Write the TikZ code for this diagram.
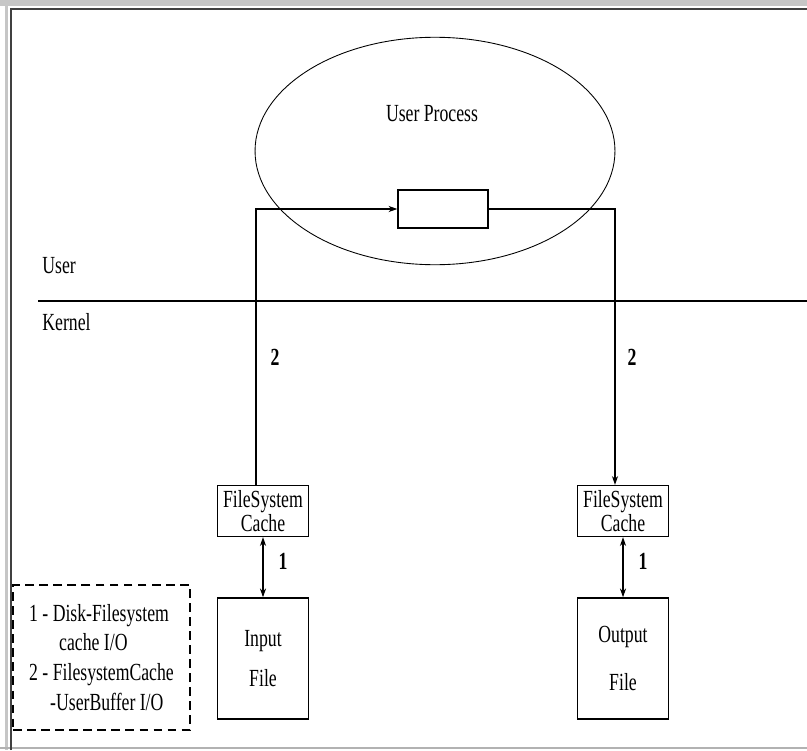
\documentclass[tikz,border=0pt]{standalone}
\usepackage{fontspec}
\setmainfont{Liberation Serif}[FakeStretch=0.72]
\usetikzlibrary{arrows.meta,positioning,calc,shapes.geometric}

\begin{document}
\begin{tikzpicture}[
  x=0.02cm, y=-0.02cm,
  font=\fontsize{14}{16}\selectfont,
  >={Stealth[length=5pt,width=3.5pt]},
  line width=0.6pt,
  box/.style={draw, line width=0.8pt, inner sep=0pt, minimum width=1.82cm, align=center},
  cache/.style={box, minimum height=1.02cm, font=\fontsize{14}{9.5}\selectfont},
  file/.style={box, minimum height=2.42cm},
  num/.style={font=\bfseries\fontsize{14}{16}\selectfont},
  arr/.style={->}
]
\useasboundingbox (0,0) rectangle (807,750);
% window frame
\fill[gray!45] (0,0) rectangle (807,6);
\fill[gray!45] (5,0) rectangle (8,750);
\draw[gray!60] (0,748) -- (807,748);
\draw[black!75, line width=1.2pt] (11,750) |- (807,9);

% user space
\node[ellipse, draw, line width=0.5pt, minimum width=7.2cm, minimum height=4.55cm] (proc) at (435,151) {};
\node (ptitle) at (432,114) {User Process};
\node[box, minimum width=1.8cm, minimum height=0.76cm] (buf) at (443,209) {};

\node[anchor=west] (user) at (36,266) {User};
\node[anchor=west] (kernel) at (36,322) {Kernel};
\coordinate (sepL) at (38,301);
\coordinate (sepR) at (807,301);
\draw[line width=1pt] (sepL) -- (sepR);

% kernel caches and files
\node[cache] (cin) at (263,511) {FileSystem\\Cache};
\node[cache] (cout) at (623,511) {FileSystem\\Cache};
\node[file, below=1.2cm of cin] (fin) {Input\\[7pt]File};
\node[file, below=1.2cm of cout] (fout) {Output\\[11pt]File};

\draw[arr] ($(cin.north)+(-7,0)$) |- (buf.west);
\draw[arr] (buf.east) -| ($(cout.north)+(-8,0)$);
\draw[<->] (cin) -- (fin);
\draw[<->] (cout) -- (fout);

\node[num] (twoL) at (275,357) {2};
\node[num] (twoR) at (632,357) {2};
\node[num] (oneL) at (283,561) {1};
\node[num] (oneR) at (643,561) {1};

% legend
\node[draw, dashed, line width=0.8pt, dash pattern=on 5pt off 3pt, minimum width=3.54cm, minimum height=2.9cm,
  align=left, inner sep=0pt, font=\fontsize{14}{17}\selectfont] (legend) at (101.5,657.5)
  {1 - Disk-Filesystem\\\hspace*{0.6cm}cache I/O\\2 - FilesystemCache\\\hspace*{0.42cm}-UserBuffer I/O};
\end{tikzpicture}
\end{document}
